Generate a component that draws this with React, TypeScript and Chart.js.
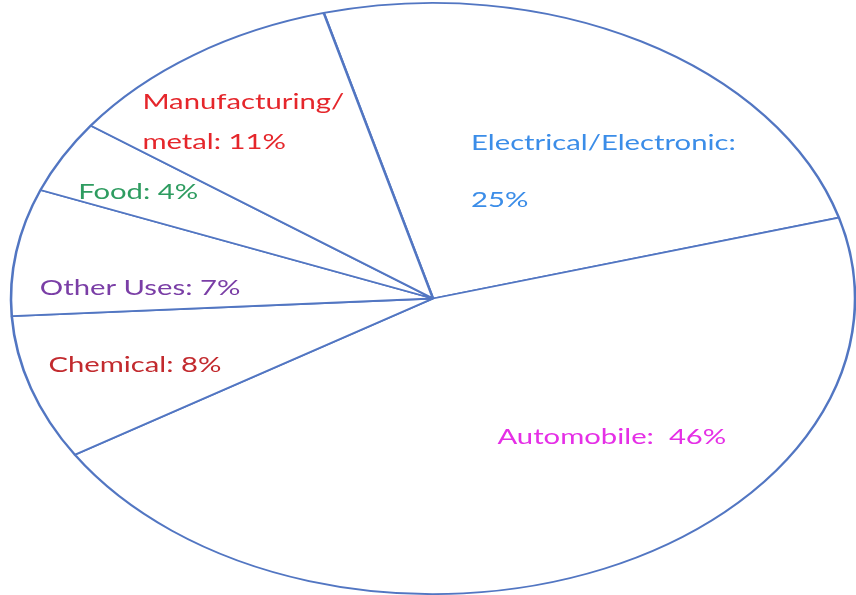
import React, { useEffect, useRef } from "react";
import { Chart, registerables } from "chart.js";

Chart.register(...registerables);

// ---- data ----
const categories = [
  "Electrical/Electronic",
  "Automobile",
  "Chemical",
  "Other Uses",
  "Food",
  "Manufacturing/metal",
];
const shares = [25, 46, 8, 7, 4, 11];
// label text pieces (prefix shown before the value)
const labelPrefixes = [
  "Electrical/Electronic:",
  "Automobile: ",
  "Chemical:",
  "Other Uses:",
  "Food:",
  "Manufacturing/\nmetal:",
];
const valueOnNewLine = [true, false, false, false, false, false];

// ---- styles ----
const labelColors = ["#3b8de8", "#e52fe6", "#c22a2e", "#7a3ea6", "#2e9c60", "#e5262b"];
// anchor inside each slice: fraction along the slice angle, fraction of radius
const labelAngleFrac = [0.654, 0.389, 0.503, 0.253, 0.403, 0.439];
const labelRadiusFrac = [0.589, 0.632, 0.741, 0.695, 0.786, 0.747];
const labelLineGap = [57, 0, 0, 0, 0, 40];
const LINE_COLOR = "#5276c2";
const HALF_WIDTH = 422; // horizontal half-axis of the ellipse
const FONT = "22px Lato, 'Open Sans', sans-serif";
const TEXT_STRETCH = 1.33;

const ellipsePlugin = {
  id: "ellipsePie",
  beforeDatasetsDraw(chart: any) {
    const arc = chart.getDatasetMeta(0).data[0] as any;
    if (!arc) return;
    const k = HALF_WIDTH / arc.outerRadius;
    const ctx = chart.ctx;
    ctx.save();
    ctx.translate(arc.x, 0);
    ctx.scale(k, 1);
    ctx.translate(-arc.x, 0);
  },
  afterDatasetsDraw(chart: any) {
    const ctx = chart.ctx;
    const arcs = chart.getDatasetMeta(0).data as any[];
    if (!arcs.length) return;
    ctx.restore();
    ctx.save();
    ctx.font = FONT;
    ctx.textBaseline = "middle";
    ctx.textAlign = "left";
    arcs.forEach((arc: any, i: number) => {
      const { x, y, startAngle, endAngle, outerRadius } = arc.getProps(
        ["x", "y", "startAngle", "endAngle", "outerRadius"],
        true
      );
      const k = HALF_WIDTH / outerRadius;
      const a = startAngle + labelAngleFrac[i] * (endAngle - startAngle);
      const r = labelRadiusFrac[i] * outerRadius;
      const X = x + Math.cos(a) * r * k;
      const Y = y + Math.sin(a) * r;
      const text =
        labelPrefixes[i] + (valueOnNewLine[i] ? "\n" : " ") + shares[i] + "%";
      const lines = text.split("\n");
      const widths = lines.map((l) => ctx.measureText(l).width * TEXT_STRETCH);
      const maxW = Math.max(...widths);
      const gap = labelLineGap[i];
      ctx.fillStyle = labelColors[i];
      lines.forEach((l, j) => {
        const ly = Y - ((lines.length - 1) * gap) / 2 + j * gap;
        ctx.save();
        ctx.translate(X - maxW / 2, ly);
        ctx.scale(TEXT_STRETCH, 1);
        ctx.fillText(l, 0, 0);
        ctx.restore();
      });
    });
    ctx.restore();
  },
};

export default function App() {
  const ref = useRef<HTMLCanvasElement | null>(null);
  useEffect(() => {
    if (!ref.current) return;
    const chart = new Chart(ref.current, {
      type: "pie",
      data: {
        labels: categories,
        datasets: [
          {
            data: shares,
            backgroundColor: "#ffffff",
            borderColor: LINE_COLOR,
            borderWidth: 1.8,
            clip: false as any,
          },
        ],
      },
      options: {
        responsive: false,
        animation: false,
        events: [],
        rotation: -15,
        layout: { padding: { left: 10, top: 2, right: 0, bottom: 0 } },
        plugins: {
          legend: { display: false },
          tooltip: { enabled: false },
        },
      },
      plugins: [ellipsePlugin],
    });
    return () => chart.destroy();
  }, []);
  return (
    <canvas
      ref={ref}
      width={856}
      height={595}
      style={{ position: "absolute", left: 0, top: 0, display: "block", background: "#ffffff" }}
    />
  );
}
